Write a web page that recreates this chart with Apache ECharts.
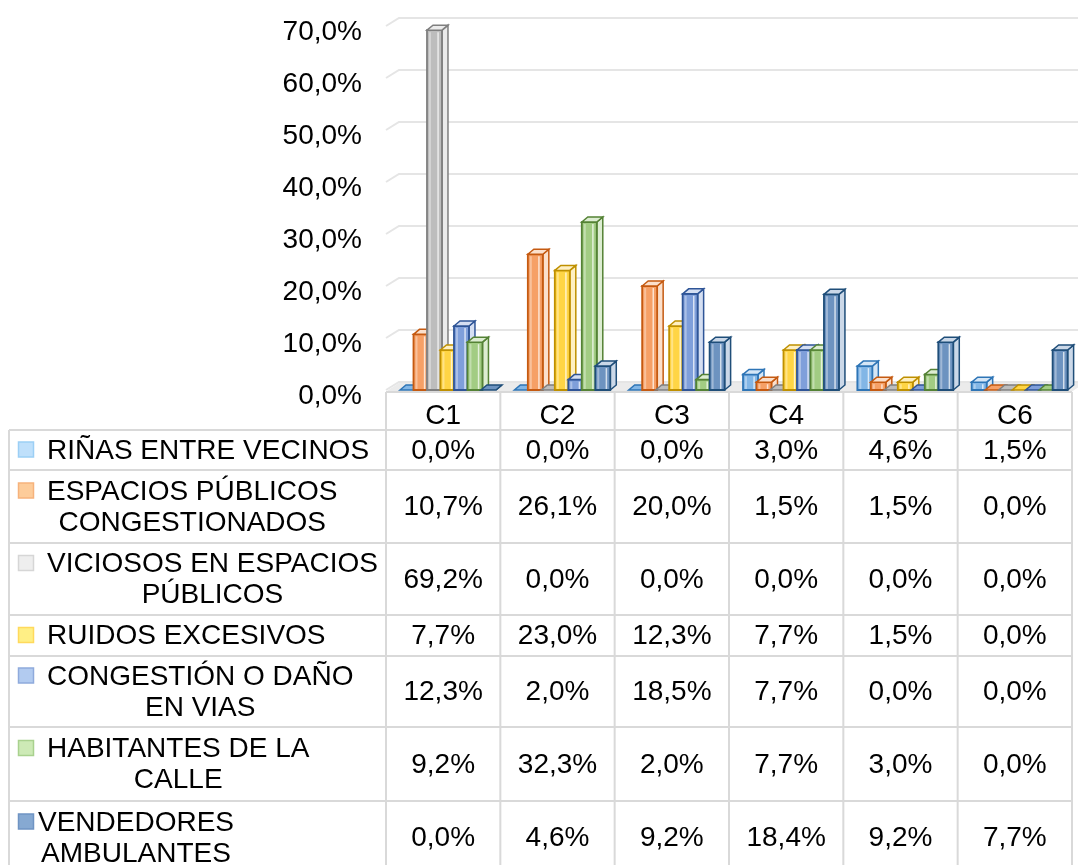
<!DOCTYPE html>
<html><head><meta charset="utf-8">
<script src="https://cdn.jsdelivr.net/npm/echarts@6/dist/echarts.min.js"></script>
<style>html,body{margin:0;padding:0;background:#fff}#c{width:1078px;height:865px}</style>
</head><body><div id="c"></div>
<script>
// ---------- data ----------
const categories = ['C1', 'C2', 'C3', 'C4', 'C5', 'C6'];
const seriesNames = [
  'RIÑAS ENTRE VECINOS',
  'ESPACIOS PÚBLICOS\nCONGESTIONADOS',
  'VICIOSOS EN ESPACIOS\nPÚBLICOS',
  'RUIDOS EXCESIVOS',
  'CONGESTIÓN O DAÑO\nEN VIAS',
  'HABITANTES DE LA\nCALLE',
  'VENDEDORES\nAMBULANTES'
];
const rinas      = [0.0, 0.0, 0.0, 3.0, 4.6, 1.5];
const espacios   = [10.7, 26.1, 20.0, 1.5, 1.5, 0.0];
const viciosos   = [69.2, 0.0, 0.0, 0.0, 0.0, 0.0];
const ruidos     = [7.7, 23.0, 12.3, 7.7, 1.5, 0.0];
const congestion = [12.3, 2.0, 18.5, 7.7, 0.0, 0.0];
const habitantes = [9.2, 32.3, 2.0, 7.7, 3.0, 0.0];
const vendedores = [0.0, 4.6, 9.2, 18.4, 9.2, 7.7];
const yTicks = [0, 10, 20, 30, 40, 50, 60, 70];

const seriesValues = [rinas, espacios, viciosos, ruidos, congestion, habitantes, vendedores];

// ---------- styles ----------
const FONT_FAMILY = '"Liberation Sans", Arial, sans-serif';
const FONT = '28px ' + FONT_FAMILY;
const styles = [
  {border: '#2e75b6', front: '#82b6e6', light: '#d5e6f6', key: '#bfe0fb', keyB: '#9ccff5'},
  {border: '#c55a11', front: '#f6a066', light: '#fbe0cc', key: '#fdcc9a', keyB: '#f6b27c'},
  {border: '#7f7f7f', front: '#bdbdbd', light: '#ebebeb', key: '#eeeeee', keyB: '#d6d6d6'},
  {border: '#bf9000', front: '#ffd545', light: '#fff0c2', key: '#ffef85', keyB: '#ffd95c'},
  {border: '#2f5597', front: '#7f9fda', light: '#d5dff2', key: '#b2cbf0', keyB: '#8faadc'},
  {border: '#548235', front: '#a2cc83', light: '#ddedd2', key: '#cdeab6', keyB: '#a9d18e'},
  {border: '#1f4e79', front: '#6d93c0', light: '#cbd8e8', key: '#86a9d2', keyB: '#6f94c3'}
];

const chart = echarts.init(document.getElementById('c'), null, {renderer: 'canvas'});

function fmt(v) { return v.toFixed(1).replace('.', ',') + '%'; }

function barRender(k) {
  return function (params, api) {
    const ci = api.value(0), v = api.value(1);
    const top = api.coord([ci, v]);
    const base = api.coord([ci, 0]);
    const band = api.size([1, 0])[0];
    const step = band * 0.118;
    const start = base[0] - band / 2 + band * 0.1225;
    const x = start + k * step, w = step + 1.5;
    const dx = 6, dy = -5;
    const yT = top[1], yB = base[1];
    const st = styles[k];
    const h = yB - yT;
    const ch = [];
    ch.push({type: 'polygon', shape: {points: [[x + w, yT], [x + w + dx, yT + dy], [x + w + dx, yB + dy], [x + w, yB]]},
      style: {fill: st.light, stroke: st.border, lineWidth: 1.5}});
    if (h > 0.5) {
      ch.push({type: 'rect', shape: {x: x, y: yT, width: w, height: h},
        style: {fill: st.front, stroke: st.border, lineWidth: 1.8}});
      if (h > 5) {
        ch.push({type: 'line', shape: {x1: x + 3, y1: yT + 2, x2: x + 3, y2: yB - 1},
          style: {stroke: 'rgba(255,255,255,0.35)', lineWidth: 2}});
        ch.push({type: 'line', shape: {x1: x + w * 0.74, y1: yT + 2, x2: x + w * 0.74, y2: yB - 1},
          style: {stroke: 'rgba(255,255,255,0.7)', lineWidth: 1.5}});
      }
    }
    ch.push({type: 'polygon', shape: {points: [[x, yT], [x + dx, yT + dy], [x + w + dx, yT + dy], [x + w, yT]]},
      style: {fill: h > 0.5 ? st.light : st.front, stroke: st.border, lineWidth: 1.5}});
    return {type: 'group', children: ch};
  };
}

const series = [];
// back-wall gridlines
series.push({
  type: 'custom', silent: true, clip: false, z: 0,
  encode: {x: 0, y: 1},
  data: yTicks.map(v => [0, v]),
  renderItem: function (params, api) {
    const p = api.coord([0, api.value(1)]);
    const cs = params.coordSys;
    const y = p[1];
    return {type: 'polyline', shape: {points: [[cs.x, y], [cs.x + 13, y - 8], [1078, y - 8]]},
      style: {stroke: '#e5e5e5', lineWidth: 2, fill: null}};
  }
});
// floor
series.push({
  type: 'custom', silent: true, clip: false, z: 0,
  encode: {x: 0, y: 1},
  data: [[0, 0]],
  renderItem: function (params, api) {
    const p = api.coord([0, 0]);
    const cs = params.coordSys;
    const y = p[1];
    return {type: 'polygon', shape: {points: [[cs.x, y + 1.5], [cs.x + cs.width, y + 1.5], [cs.x + cs.width + 13, y - 7], [cs.x + 13, y - 7]]},
      style: {fill: '#ebebeb', stroke: null}};
  }
});
seriesValues.forEach((vals, k) => {
  series.push({
    type: 'custom', name: seriesNames[k], clip: false, z: 2,
    encode: {x: 0, y: 1},
    data: vals.map((v, i) => [i, v]),
    renderItem: barRender(k)
  });
});

chart.setOption({
  animation: false,
  backgroundColor: '#ffffff',
  grid: {left: 386, right: 6, top: 26, bottom: 475, containLabel: false},
  xAxis: {
    type: 'category', data: categories,
    axisLine: {show: false}, axisTick: {show: false}, splitLine: {show: false},
    axisLabel: {fontSize: 28, fontFamily: FONT_FAMILY, color: '#000', margin: 12}
  },
  yAxis: {
    type: 'value', min: 0, max: 70, interval: 10,
    axisLine: {show: false}, axisTick: {show: false}, splitLine: {show: false},
    axisLabel: {fontSize: 28, fontFamily: FONT_FAMILY, color: '#000', margin: 24,
      verticalAlign: 'top', lineHeight: 12,
      formatter: v => v.toFixed(1).replace('.', ',') + '%'}
  },
  series: series
});

// ---------- data table ----------
const colX = categories.map(c => chart.convertToPixel({xAxisIndex: 0}, c));
const band = colX[1] - colX[0];
const tLeft = colX[0] - band / 2;
const tRight = colX[colX.length - 1] + band / 2;
const rowTop = [430, 470, 543, 615, 656, 727, 801];
const rowBot = [470, 543, 615, 656, 727, 801, 874];
const labelStart = [47, 47, 47, 47, 47, 47, 38];
const LINE_H = 31;
const GRID_C = '#d9d9d9';

const ctx = document.createElement('canvas').getContext('2d');
ctx.font = FONT;

const g = [];
g.push({type: 'line', shape: {x1: tLeft, y1: 392, x2: tRight, y2: 392}, style: {stroke: GRID_C, lineWidth: 2}});
rowTop.forEach(y => g.push({type: 'line', shape: {x1: 9, y1: y, x2: tRight, y2: y}, style: {stroke: GRID_C, lineWidth: 2}}));
g.push({type: 'line', shape: {x1: 9, y1: 430, x2: 9, y2: 865}, style: {stroke: GRID_C, lineWidth: 2}});
for (let i = 0; i <= categories.length; i++) {
  const x = tLeft + i * band;
  g.push({type: 'line', shape: {x1: x, y1: 392, x2: x, y2: 865}, style: {stroke: GRID_C, lineWidth: 2}});
}
seriesNames.forEach((name, r) => {
  const lines = name.split('\n');
  const cy = (rowTop[r] + rowBot[r]) / 2;
  const maxW = Math.max(...lines.map(l => ctx.measureText(l).width));
  const firstY = cy - (lines.length - 1) * LINE_H / 2;
  g.push({type: 'rect', shape: {x: 18.5, y: firstY - 8, width: 15, height: 15},
    style: {fill: styles[r].key, stroke: styles[r].keyB, lineWidth: 1.5}});
  g.push({type: 'text', x: labelStart[r] + maxW / 2, y: cy + 1,
    style: {text: name, font: FONT, fill: '#000', align: 'center', verticalAlign: 'middle', lineHeight: LINE_H}});
  seriesValues[r].forEach((v, c) => {
    g.push({type: 'text', x: colX[c], y: cy + 1,
      style: {text: fmt(v), font: FONT, fill: '#000', align: 'center', verticalAlign: 'middle'}});
  });
});

chart.setOption({graphic: {elements: g.map(e => Object.assign({silent: true, z: 10}, e))}});
</script>
</body></html>
